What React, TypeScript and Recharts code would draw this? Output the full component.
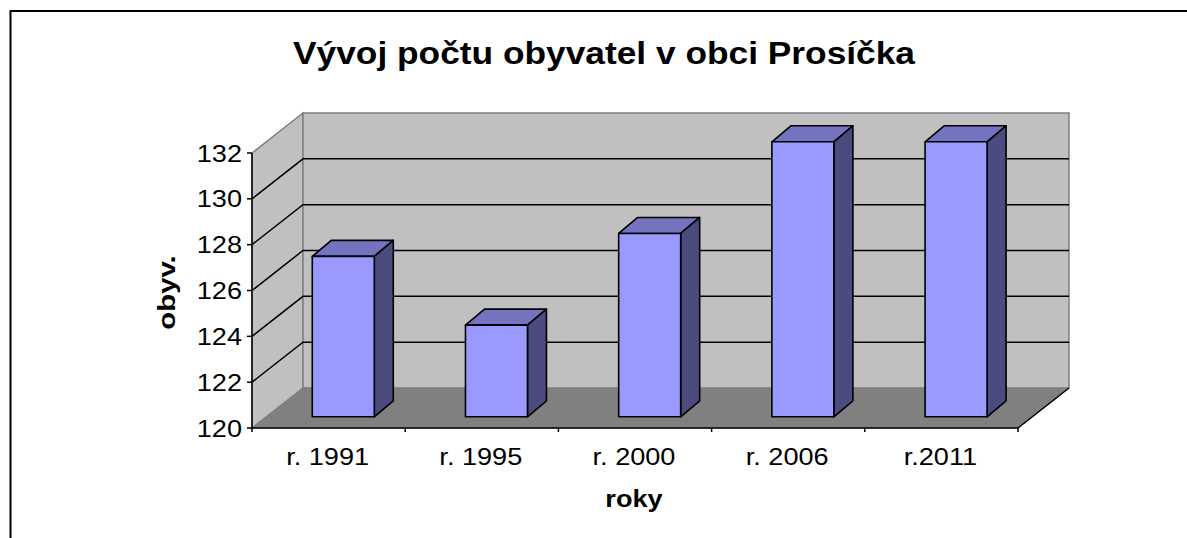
import { Bar, BarChart, CartesianGrid, Label, ReferenceArea, XAxis, YAxis } from 'recharts';

const years = ['r. 1991', 'r. 1995', 'r. 2000', 'r. 2006', 'r.2011'];
const residents = [127, 124, 128, 132, 132];
const yTicks = [120, 122, 124, 126, 128, 130, 132];
const yDomain: [number, number] = [120, 132];

const data = years.map((year, i) => ({ year, residents: residents[i] }));

const W = 1187;
const H = 538;
const PLOT_LEFT = 252;
const PLOT_RIGHT = 1018;
const PLOT_TOP = 153;
const PLOT_BOTTOM = 428;
const Y_AXIS_W = 100;

// fake 3d: depth of the walls and where the boxes sit on the floor
const DEPTH_X = 51;
const DEPTH_Y = -40;
const BAR_SHIFT = 0.28;
const BOX_DX = 19;
const BOX_DY = -16;

// the original picture is a bit stretched
const SX = 1.13;
const FONT = '"Liberation Sans", Arial, sans-serif';

function Walls({ x, y, width, height }: any) {
  const bx = x + DEPTH_X;
  const by = y + DEPTH_Y;
  const bottom = y + height;
  const backBottom = bottom + DEPTH_Y;
  return (
    <g>
      <polygon
        points={`${x},${bottom} ${x},${y} ${bx},${by} ${bx},${backBottom}`}
        fill="#c0c0c0"
        stroke="#808080"
        strokeWidth={1.5}
      />
      <rect x={bx} y={by} width={width} height={height} fill="#c0c0c0" stroke="#808080" strokeWidth={1.5} />
      <polygon
        points={`${x},${bottom} ${bx},${backBottom} ${bx + width},${backBottom} ${x + width},${bottom}`}
        fill="#808080"
        stroke="#808080"
        strokeWidth={1}
      />
      <line x1={x + width} y1={bottom} x2={bx + width} y2={backBottom} stroke="#000" strokeWidth={1.5} />
    </g>
  );
}

const gridLine = (p: any) => {
  const { x1, y1, x2 } = p;
  if (Math.abs(y1 - PLOT_TOP) < 1 || Math.abs(y1 - PLOT_BOTTOM) < 1) return <g />;
  return (
    <path
      d={`M${x1},${y1} L${x1 + DEPTH_X},${y1 + DEPTH_Y} L${x2 + DEPTH_X},${y1 + DEPTH_Y}`}
      fill="none"
      stroke="#000"
      strokeWidth={1.5}
    />
  );
};

function Box3D({ x, y, width, height }: any) {
  const fx = x + DEPTH_X * BAR_SHIFT;
  const fy = y + DEPTH_Y * BAR_SHIFT;
  const r = fx + width;
  const b = fy + height;
  return (
    <g stroke="#000" strokeWidth={1.6} strokeLinejoin="round">
      <polygon points={`${fx},${fy} ${fx + BOX_DX},${fy + BOX_DY} ${r + BOX_DX},${fy + BOX_DY} ${r},${fy}`} fill="#7373bf" />
      <polygon points={`${r},${fy} ${r + BOX_DX},${fy + BOX_DY} ${r + BOX_DX},${b + BOX_DY} ${r},${b}`} fill="#4b4b80" />
      <rect x={fx} y={fy} width={width} height={height} fill="#9999ff" />
    </g>
  );
}

function XTick({ x, payload }: any) {
  const half = payload?.offset || (PLOT_RIGHT - PLOT_LEFT) / years.length / 2;
  const last = payload?.index === years.length - 1;
  return (
    <g>
      <line x1={x - half} y1={PLOT_BOTTOM} x2={x - half} y2={PLOT_BOTTOM + 4} stroke="#000" strokeWidth={1.5} />
      {last && <line x1={x + half} y1={PLOT_BOTTOM} x2={x + half} y2={PLOT_BOTTOM + 4} stroke="#000" strokeWidth={1.5} />}
      <text
        transform={`translate(${x - 1},${PLOT_BOTTOM + 37}) scale(${SX},1)`}
        textAnchor="middle"
        fontSize={24}
        fontFamily={FONT}
        fill="#000"
      >
        {payload.value}
      </text>
    </g>
  );
}

function YTick({ x, y, payload }: any) {
  return (
    <text
      transform={`translate(${x},${y}) scale(${SX},1)`}
      textAnchor="end"
      dy="0.355em"
      fontSize={24}
      fontFamily={FONT}
      fill="#000"
    >
      {payload.value}
    </text>
  );
}

function YLabel({ viewBox }: any) {
  const vb = viewBox || { x: PLOT_LEFT - Y_AXIS_W, y: PLOT_TOP, height: PLOT_BOTTOM - PLOT_TOP };
  return (
    <text
      transform={`translate(${vb.x + 23},${vb.y + vb.height / 2 + 2}) rotate(-90) scale(1.22,1)`}
      textAnchor="middle"
      fontSize={24}
      fontWeight="bold"
      fontFamily={FONT}
      fill="#000"
    >
      obyv.
    </text>
  );
}

function XLabel({ viewBox }: any) {
  const vb = viewBox || { x: PLOT_LEFT, y: PLOT_BOTTOM, width: PLOT_RIGHT - PLOT_LEFT };
  return (
    <text
      transform={`translate(${vb.x + vb.width / 2 - 1},${vb.y + 79}) scale(${SX},1)`}
      textAnchor="middle"
      fontSize={24}
      fontWeight="bold"
      fontFamily={FONT}
      fill="#000"
    >
      roky
    </text>
  );
}

export default function App() {
  return (
    <div style={{ position: 'absolute', left: 0, top: 0, width: W, height: H, background: '#fff', overflow: 'hidden' }}>
      <svg width={W} height={H} style={{ position: 'absolute', left: 0, top: 0 }}>
        <rect x={10.5} y={11} width={W + 50} height={H + 50} fill="#fff" stroke="#000" strokeWidth={2} />
        <text
          x={293}
          y={64}
          textLength={622}
          lengthAdjust="spacingAndGlyphs"
          fontSize={31}
          fontWeight="bold"
          fontFamily={FONT}
          fill="#000"
        >
          Vývoj počtu obyvatel v obci Prosíčka
        </text>
      </svg>
      <div style={{ position: 'absolute', left: 0, top: 0 }}>
        <BarChart
          width={W}
          height={H}
          data={data}
          barSize={62}
          margin={{ top: PLOT_TOP, right: W - PLOT_RIGHT, bottom: 0, left: PLOT_LEFT - Y_AXIS_W }}
        >
          <ReferenceArea y1={yDomain[0]} y2={yDomain[1]} shape={Walls} zIndex={-200} />
          <CartesianGrid vertical={false} horizontal={gridLine} zIndex={-100} />
          <XAxis
            dataKey="year"
            height={H - PLOT_BOTTOM}
            interval={0}
            axisLine={{ stroke: '#000', strokeWidth: 1.5 }}
            tickLine={false}
            tick={<XTick />}
          >
            <Label content={<XLabel />} />
          </XAxis>
          <YAxis
            type="number"
            domain={yDomain}
            ticks={yTicks}
            interval={0}
            width={Y_AXIS_W}
            tickSize={5}
            tickMargin={5}
            axisLine={{ stroke: '#000', strokeWidth: 1.5 }}
            tickLine={{ stroke: '#000', strokeWidth: 1.5 }}
            tick={<YTick />}
          >
            <Label content={<YLabel />} />
          </YAxis>
          <Bar dataKey="residents" shape={<Box3D />} isAnimationActive={false} />
        </BarChart>
      </div>
    </div>
  );
}
